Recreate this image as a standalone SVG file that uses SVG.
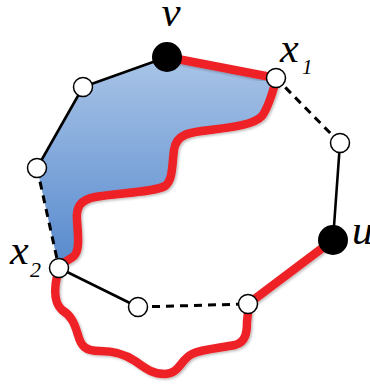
<svg xmlns="http://www.w3.org/2000/svg" width="370" height="386" viewBox="0 0 370 386">
<defs>
<linearGradient id="blue" x1="0" y1="0" x2="0" y2="1">
<stop offset="0" stop-color="#a9c4e7"/>
<stop offset="1" stop-color="#5689cd"/>
</linearGradient>
<filter id="sh" x="-10%" y="-10%" width="120%" height="120%">
<feDropShadow dx="1.5" dy="1.5" stdDeviation="1.2" flood-color="#000" flood-opacity="0.25"/>
</filter>
</defs>
<style>
.e{stroke:#000;stroke-width:2.6;fill:none;stroke-linecap:round}
.d{stroke:#000;stroke-width:3;fill:none;stroke-dasharray:8 6}
.r{stroke:#ee2226;stroke-width:8.5;fill:none;stroke-linecap:round;stroke-linejoin:round;filter:url(#sh)}
.w{fill:#fff;stroke:#000;stroke-width:1.5}
.b{fill:#000}
.t{font-family:"Liberation Serif",serif;font-style:italic;fill:#000}
</style>
<path id="region" fill="url(#blue)" d="M167,57 L83,87 L37,168 L59,268 C64,261 70,260 74,256 C80,250 78,235 77,220 C76,207 80,200 95,197 C120,193 155,192 165,186 C173,180 172,165 174,150 C176,134 190,132 210,130 C235,127 255,124 262,116 C268,108 272,95 276,80 Z"/>
<g id="connectors">
<line class="e" x1="167" y1="57" x2="83" y2="87"/>
<line class="e" x1="83" y1="87" x2="37" y2="168"/>
<line class="d" x1="37" y1="168" x2="59" y2="268"/>
<line class="e" x1="59" y1="268" x2="138" y2="307"/>
<line class="d" x1="138" y1="307" x2="248" y2="304"/>
<line class="r" x1="248" y1="304" x2="333" y2="240"/>
<line class="e" x1="333" y1="240" x2="340" y2="143"/>
<line class="d" x1="340" y1="143" x2="276" y2="78"/>
<line class="r" x1="276" y1="78" x2="167" y2="57"/>
<path class="r" d="M276,80 C272,95 268,108 262,116 C255,124 235,127 210,130 C190,132 176,134 174,150 C172,165 173,180 165,186 C155,192 120,193 95,197 C80,200 76,207 77,220 C78,235 80,250 74,256 C70,260 64,261 59,266"/>
<path class="r" d="M57,276 C54,290 54,303 62,310 C72,316 75,325 78,335 C81,346 85,351 100,351 C115,351 125,354 135,361 C145,368 152,374 165,374 C180,373 180,360 192,354 C202,349 220,348 235,345 C246,342 247,332 247,322 L248,312"/>
</g>
<g id="node-v"><circle class="b" cx="167" cy="57" r="15"/><text class="t" x="171" y="26" font-size="43" text-anchor="middle">v</text></g>
<g id="node-x1"><circle class="w" cx="276" cy="78" r="9.5"/><text class="t" x="280" y="62" font-size="42">x</text><text class="t" x="302" y="74" font-size="21">1</text></g>
<g id="node-r"><circle class="w" cx="340" cy="143" r="9.5"/></g>
<g id="node-u"><circle class="b" cx="333" cy="240" r="15"/><text class="t" x="352" y="244" font-size="42">u</text></g>
<g id="node-br"><circle class="w" cx="248" cy="304" r="9.5"/></g>
<g id="node-b"><circle class="w" cx="138" cy="307" r="9.5"/></g>
<g id="node-x2"><circle class="w" cx="59" cy="268" r="9.5"/><text class="t" x="10" y="264" font-size="42">x</text><text class="t" x="30" y="277" font-size="22">2</text></g>
<g id="node-l"><circle class="w" cx="37" cy="168" r="9.5"/></g>
<g id="node-tl"><circle class="w" cx="83" cy="87" r="9.5"/></g>
</svg>
